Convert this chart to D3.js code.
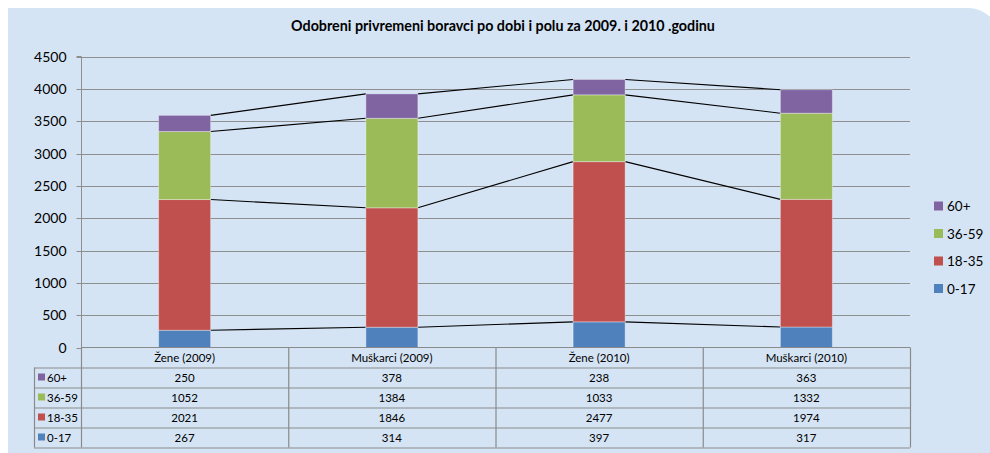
<!DOCTYPE html>
<html><head><meta charset="utf-8">
<script src="https://cdn.jsdelivr.net/npm/d3@7"></script>
<style>body{margin:0;background:#fff;}svg{display:block;font-family:Lato,"Open Sans",sans-serif;}</style>
</head><body>
<svg id="c" width="990" height="453"></svg>
<script>
const title = "Odobreni privremeni boravci po dobi i polu za 2009. i 2010 .godinu";
const categories = ["Žene (2009)", "Muškarci (2009)", "Žene (2010)", "Muškarci (2010)"];
const seriesNames = ["0-17", "18-35", "36-59", "60+"];
const v0_17 = [267, 314, 397, 317];
const v18_35 = [2021, 1846, 2477, 1974];
const v36_59 = [1052, 1384, 1033, 1332];
const v60 = [250, 378, 238, 363];
const colors = ["#4f81bd", "#c0504d", "#9bbb59", "#8064a2"];
const yTicks = [0, 500, 1000, 1500, 2000, 2500, 3000, 3500, 4000, 4500];

const seriesVals = [v0_17, v18_35, v36_59, v60];
const svg = d3.select("#c");
const L = 81, R = 910, T = 56.5, B = 347.5;
const tblLeft = 34, rowH = 20;

const rr = 32;
svg.append("path")
  .attr("d", `M8,8 H${1000 - rr} A${rr},${rr} 0 0 1 1000,${8 + rr} V460 H8 Z`)
  .attr("fill", "#d5e4f4");

svg.append("text").attr("x", 503).attr("y", 31).attr("text-anchor", "middle")
  .attr("font-weight", "bold").attr("font-size", 14.3).attr("fill", "#000").text(title);

const x = d3.scaleBand().domain(categories).range([L, R]).paddingInner(0).paddingOuter(0);
const y = d3.scaleLinear().domain([0, 4500]).range([B, T]);

svg.append("g").selectAll("line").data(yTicks.filter(d => d > 0)).join("line")
  .attr("x1", L).attr("x2", R).attr("y1", d => Math.round(y(d)) + 0.5).attr("y2", d => Math.round(y(d)) + 0.5)
  .attr("stroke", "#8e8e8e").attr("stroke-width", 1);

const ya = svg.append("g").attr("transform", `translate(${L + 0.5},0)`)
  .call(d3.axisLeft(y).tickValues(yTicks).tickFormat(d3.format("d")).tickSize(5).tickPadding(10));
ya.select(".domain").attr("stroke", "#8e8e8e").attr("d", `M-5,${T}H0V${B}`);
ya.selectAll(".tick line").attr("stroke", "#8e8e8e");
ya.selectAll(".tick text").attr("font-size", 14).attr("font-family", "Lato").attr("fill", "#000");
ya.selectAll(".tick").attr("transform", d => `translate(0,${Math.round(y(d)) + 0.5})`);

const rows = categories.map((c, i) => {
  const o = { cat: c };
  seriesNames.forEach((s, j) => o[s] = seriesVals[j][i]);
  return o;
});
const stack = d3.stack().keys(seriesNames)(rows);
const barW = 52;

stack.forEach((layer, j) => {
  for (let i = 0; i < categories.length - 1; i++) {
    svg.append("line")
      .attr("x1", x(categories[i]) + x.bandwidth() / 2 + barW / 2)
      .attr("x2", x(categories[i + 1]) + x.bandwidth() / 2 - barW / 2)
      .attr("y1", y(layer[i][1])).attr("y2", y(layer[i + 1][1]))
      .attr("stroke", "#000").attr("stroke-width", 1.1);
  }
});

svg.append("g").selectAll("g").data(stack).join("g").attr("fill", (d, j) => colors[j])
  .selectAll("rect").data(d => d).join("rect")
  .attr("x", d => x(d.data.cat) + x.bandwidth() / 2 - barW / 2)
  .attr("width", barW)
  .attr("y", d => y(d[1])).attr("height", d => y(d[0]) - y(d[1]))
  .attr("stroke", "rgba(255,255,255,0.35)").attr("stroke-width", 1);

const tg = svg.append("g");
const gc = "#8a8a8a";
for (let r = 1; r <= 5; r++) {
  const yy = Math.round(B) + r * rowH;
  tg.append("line").attr("x1", tblLeft).attr("x2", R).attr("y1", yy).attr("y2", yy)
    .attr("stroke", gc).attr("stroke-width", 1.2);
}
tg.append("line").attr("x1", L).attr("x2", R).attr("y1", B).attr("y2", B).attr("stroke", gc).attr("stroke-width", 1.2);
tg.append("line").attr("x1", tblLeft + 0.5).attr("x2", tblLeft + 0.5).attr("y1", B + rowH).attr("y2", B + 5 * rowH).attr("stroke", gc).attr("stroke-width", 1.2);
categories.concat(["__end"]).forEach((c, i) => {
  const xx = i < categories.length ? x(c) : R;
  tg.append("line").attr("x1", xx + 0.5).attr("x2", xx + 0.5).attr("y1", B).attr("y2", B + 5 * rowH)
    .attr("stroke", gc).attr("stroke-width", 1.2);
});
categories.forEach(c => {
  tg.append("text").attr("x", x(c) + x.bandwidth() / 2).attr("y", B + rowH / 2 + 4)
    .attr("text-anchor", "middle").attr("font-size", 11.5).attr("fill", "#000").text(c);
});
const order = [3, 2, 1, 0];
order.forEach((j, r) => {
  const cy = B + rowH * (r + 1) + rowH / 2;
  tg.append("rect").attr("x", 38).attr("y", cy - 4).attr("width", 7).attr("height", 7).attr("fill", colors[j]);
  tg.append("text").attr("x", 47).attr("y", cy + 4).attr("font-size", 11.5).attr("fill", "#000").text(seriesNames[j]);
  categories.forEach((c, i) => {
    tg.append("text").attr("x", x(c) + x.bandwidth() / 2).attr("y", cy + 4)
      .attr("text-anchor", "middle").attr("font-size", 11.5).attr("fill", "#000").text(seriesVals[j][i]);
  });
});

const lg = svg.append("g");
order.forEach((j, r) => {
  const cy = 206 + r * 27.5;
  lg.append("rect").attr("x", 934).attr("y", cy - 4.5).attr("width", 9).attr("height", 9).attr("fill", colors[j]);
  lg.append("text").attr("x", 947).attr("y", cy + 5).attr("font-size", 13.5).attr("fill", "#000").text(seriesNames[j]);
});
</script>
</body></html>
